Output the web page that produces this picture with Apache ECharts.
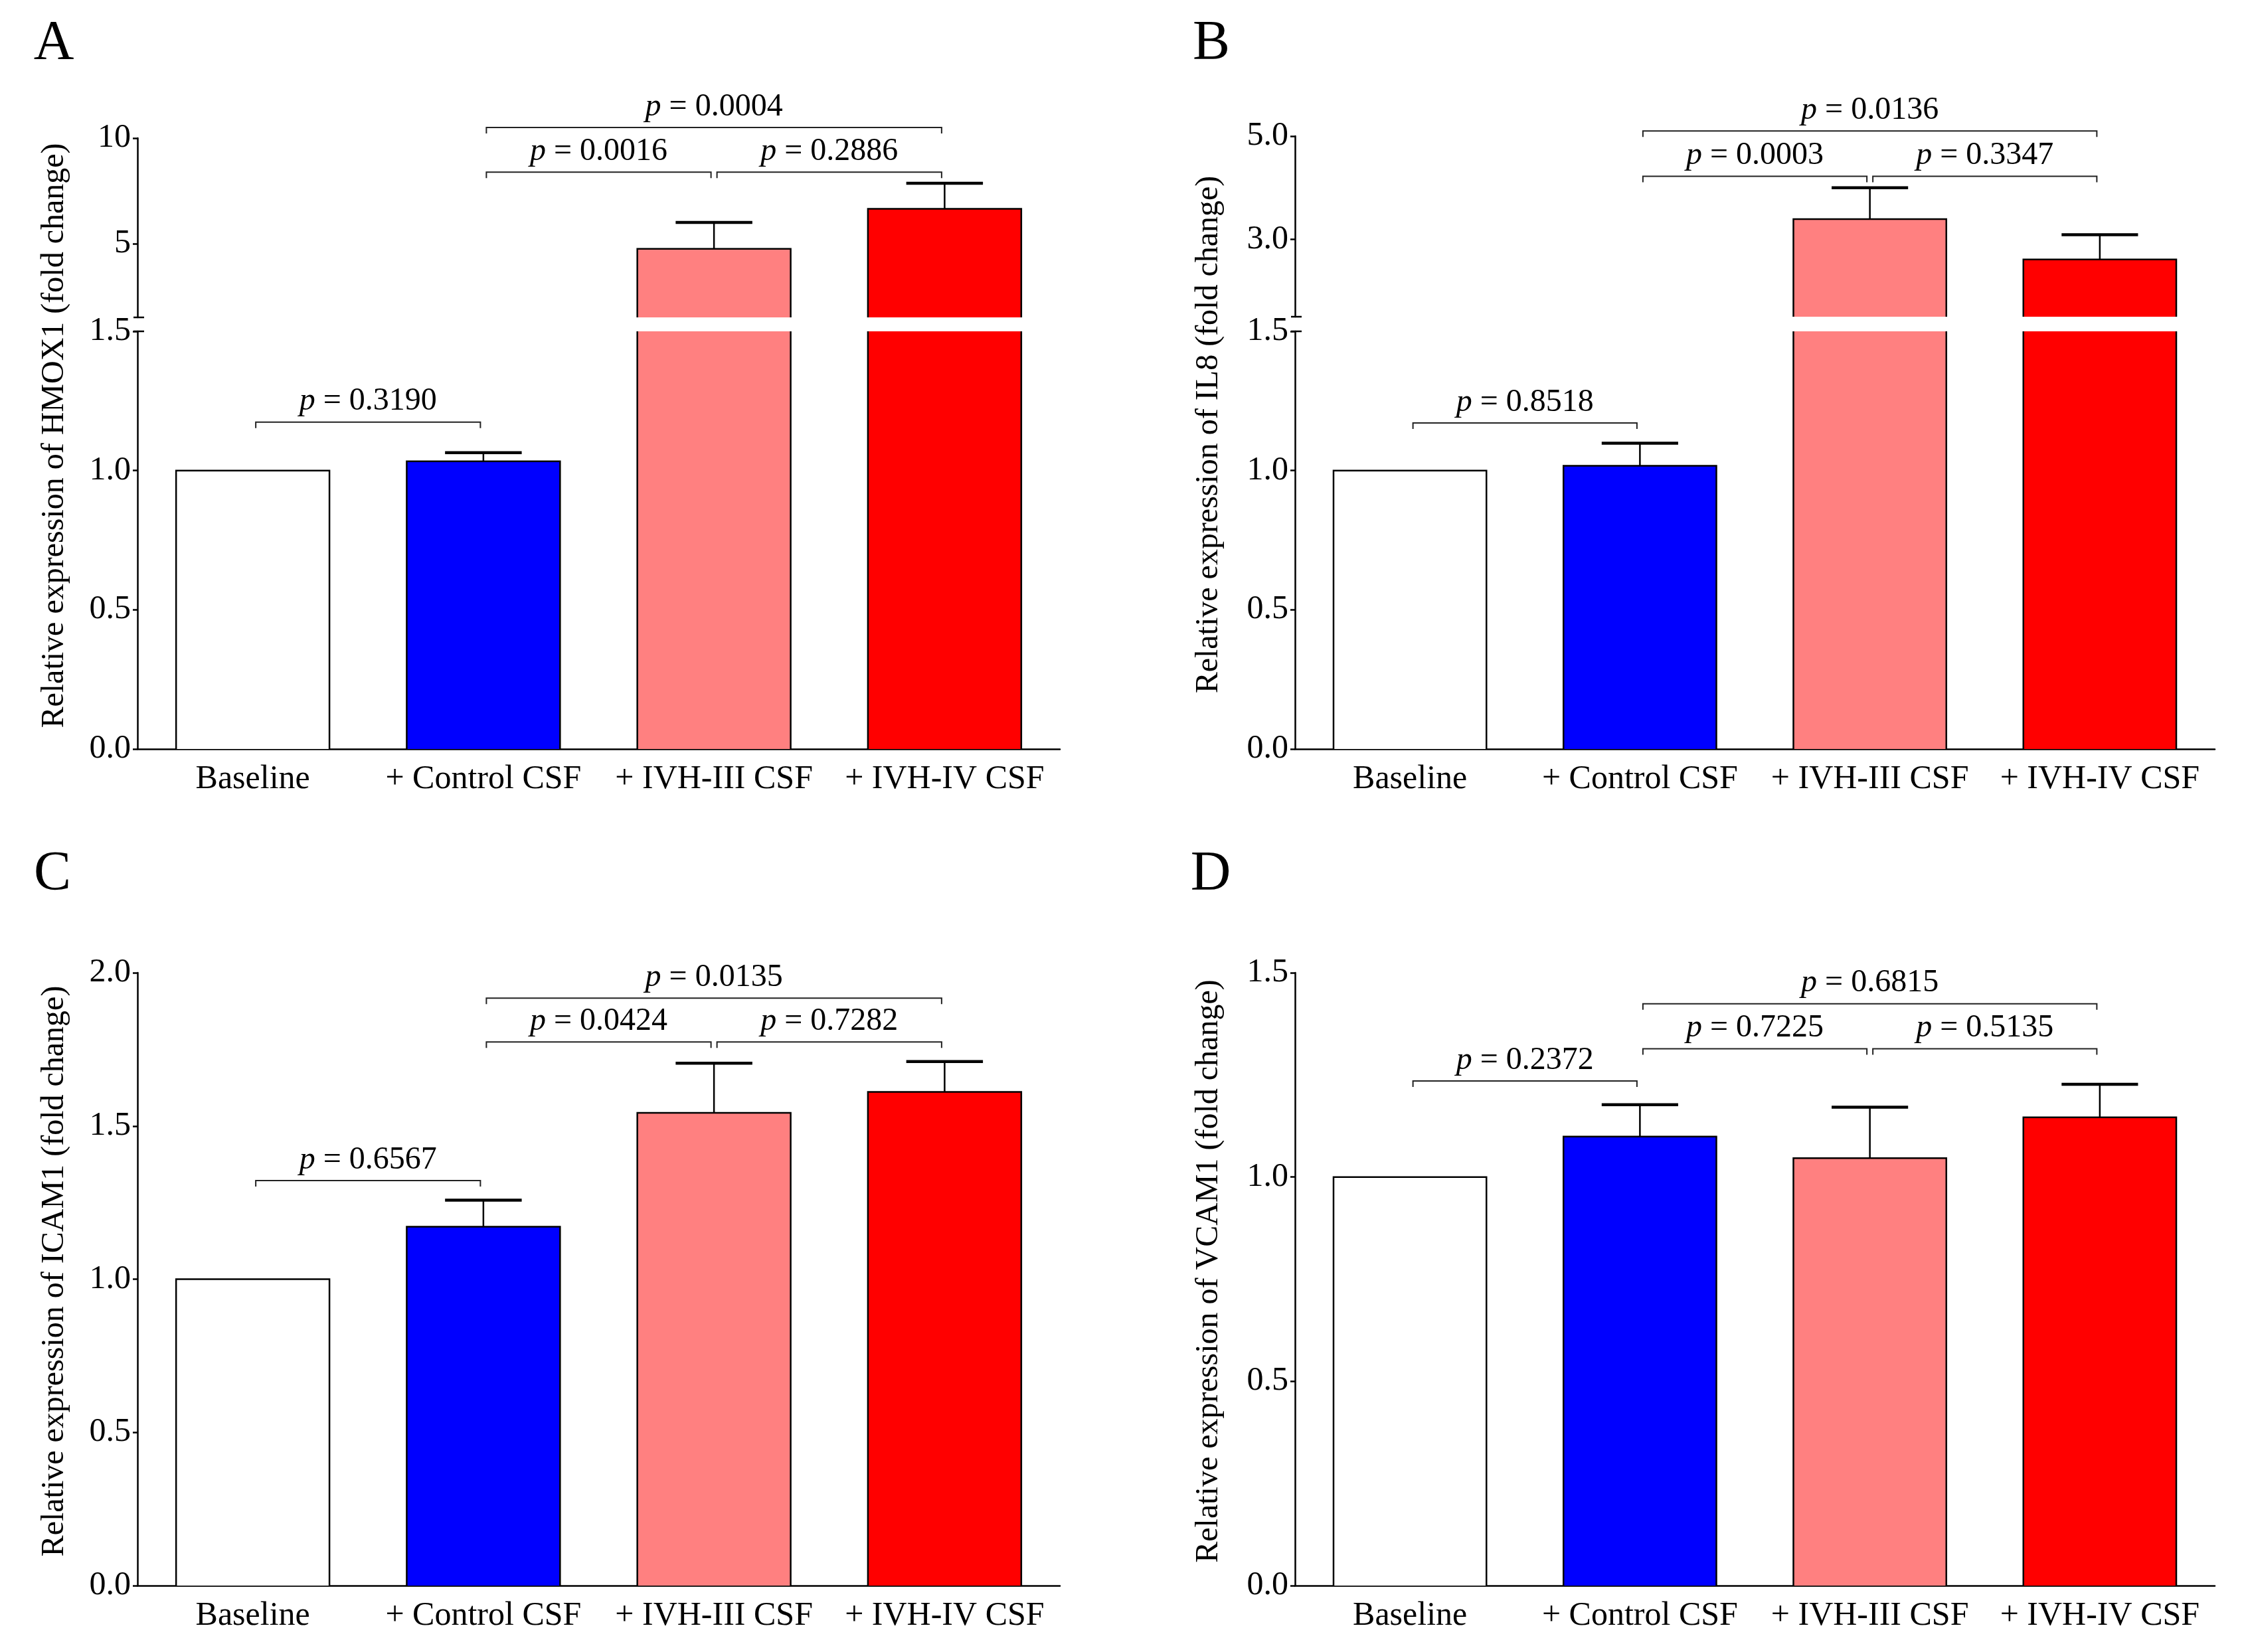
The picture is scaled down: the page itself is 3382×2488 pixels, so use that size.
<!DOCTYPE html>
<html><head><meta charset="utf-8">
<script src="https://cdn.jsdelivr.net/npm/echarts@6/dist/echarts.min.js"></script>
<style>html,body{margin:0;padding:0;background:#fff}#chart{width:3382px;height:2488px}</style>
</head><body><div id="chart"></div>
<script>
// ---------------- data ----------------
const categories = ['Baseline', '+ Control CSF', '+ IVH-III CSF', '+ IVH-IV CSF'];
const barColors = ['#FFFFFF', '#0000FF', '#FF8080', '#FF0000'];

const hmox1Mean = [1.0, 1.033, 4.75, 6.65];
const hmox1Err  = [0, 0.031, 1.25, 1.21];
const il8Mean   = [1.0, 1.017, 3.39, 2.61];
const il8Err    = [0, 0.081, 0.61, 0.48];
const icam1Mean = [1.0, 1.171, 1.543, 1.611];
const icam1Err  = [0, 0.087, 0.162, 0.099];
const vcam1Mean = [1.0, 1.099, 1.046, 1.146];
const vcam1Err  = [0, 0.078, 0.125, 0.081];

// comparisons: [fromIndex, toIndex, bracket level (data units), p value]
const hmox1Tests = [[0, 1, 1.174, '0.3190'], [1, 2, 8.39, '0.0016'], [2, 3, 8.39, '0.2886'], [1, 3, 10.5, '0.0004']];
const il8Tests   = [[0, 1, 1.171, '0.8518'], [1, 2, 4.22, '0.0003'], [2, 3, 4.22, '0.3347'], [1, 3, 5.1, '0.0136']];
const icam1Tests = [[0, 1, 1.322, '0.6567'], [1, 2, 1.774, '0.0424'], [2, 3, 1.774, '0.7282'], [1, 3, 1.917, '0.0135']];
const vcam1Tests = [[0, 1, 1.235, '0.2372'], [1, 2, 1.314, '0.7225'], [2, 3, 1.314, '0.5135'], [1, 3, 1.424, '0.6815']];

const hmox1UpperTicks = [5, 10];
const il8UpperTicks = [3, 5];

// ---------------- layout / style ----------------
const FONT = 'Liberation Serif';
const BAR_FRAC = 0.665;
const AXW = 2.5;

const panels = [
  {letter: 'A', gene: 'HMOX1', mean: hmox1Mean, err: hmox1Err, tests: hmox1Tests,
   left: 207, width: 1389, letterPos: [81, 67], titleX: 82,
   lower: {top: 499, height: 629, max: 1.5, interval: 0.5},
   upper: {top: 208, height: 270, min: 1.5, max: 10, ticks: hmox1UpperTicks, dec: 0}},
  {letter: 'B', gene: 'IL8', mean: il8Mean, err: il8Err, tests: il8Tests,
   left: 1950, width: 1385, letterPos: [1824, 67], titleX: 1820,
   lower: {top: 499, height: 629, max: 1.5, interval: 0.5},
   upper: {top: 205, height: 272, min: 1.5, max: 5, ticks: il8UpperTicks, dec: 1}},
  {letter: 'C', gene: 'ICAM1', mean: icam1Mean, err: icam1Err, tests: icam1Tests,
   left: 207, width: 1389, letterPos: [79, 1318], titleX: 82,
   lower: {top: 1465, height: 923, max: 2.0, interval: 0.5}},
  {letter: 'D', gene: 'VCAM1', mean: vcam1Mean, err: vcam1Err, tests: vcam1Tests,
   left: 1950, width: 1385, letterPos: [1823, 1318], titleX: 1820,
   lower: {top: 1465, height: 923, max: 1.5, interval: 0.5}}
];

const grids = [], xAxes = [], yAxes = [], series = [], graphic = [];

function addGrid(p, seg, isUpper) {
  const gi = grids.length;
  grids.push({left: p.left, top: seg.top, width: p.width, height: seg.height, containLabel: false});
  xAxes.push({
    type: 'category', gridIndex: gi, data: categories, show: !isUpper, boundaryGap: true,
    axisLine: {onZero: false, lineStyle: {color: '#000', width: AXW}},
    axisTick: {alignWithLabel: true, length: 9, lineStyle: {color: '#000', width: AXW}},
    axisLabel: {color: '#000', fontFamily: FONT, fontSize: 50, margin: 21, interval: 0}
  });
  const y = {
    type: 'value', gridIndex: gi, splitLine: {show: false},
    axisLine: {show: true, lineStyle: {color: '#000', width: AXW}},
    axisTick: {show: true, length: 7, lineStyle: {color: '#000', width: AXW}},
    axisLabel: {color: '#000', fontFamily: FONT, fontSize: 50, margin: 10}
  };
  if (isUpper) {
    y.min = seg.min; y.max = seg.max;
    y.axisLabel.customValues = seg.ticks;
    y.axisTick.customValues = seg.ticks;
    y.axisLabel.formatter = v => v.toFixed(seg.dec);
  } else {
    y.min = 0; y.max = seg.max; y.interval = seg.interval;
    y.axisLabel.formatter = v => v.toFixed(1);
  }
  yAxes.push(y);
  return gi;
}

function addBars(gi, p) {
  series.push({
    type: 'bar', xAxisIndex: gi, yAxisIndex: gi, barWidth: (BAR_FRAC * 100) + '%', clip: true, z: 2,
    silent: true,
    data: p.mean.map((v, i) => ({value: v, itemStyle: {color: barColors[i], borderWidth: 0}}))
  });
  series.push({
    type: 'custom', xAxisIndex: gi, yAxisIndex: gi, clip: true, z: 3, silent: true,
    encode: {x: 0, y: 1},
    data: p.mean.map((v, i) => [i, v, p.err[i]]),
    renderItem(params, api) {
      const i = api.value(0), m = api.value(1), e = api.value(2);
      const top = api.coord([i, m]);
      const base = api.coord([i, 0]);
      const w = api.size([1, 0])[0] * BAR_FRAC;
      const x0 = top[0] - w / 2, x1 = top[0] + w / 2;
      const children = [{
        type: 'polyline',
        shape: {points: [[x0, base[1]], [x0, top[1]], [x1, top[1]], [x1, base[1]]]},
        style: {stroke: '#000', fill: null, lineWidth: 2.5}
      }];
      if (e > 0) {
        const t = api.coord([i, m + e]);
        const cw = w * 0.25;
        children.push({type: 'line', shape: {x1: top[0], y1: top[1], x2: top[0], y2: t[1]},
          style: {stroke: '#000', lineWidth: 2.5}});
        children.push({type: 'line', shape: {x1: top[0] - cw, y1: t[1], x2: top[0] + cw, y2: t[1]},
          style: {stroke: '#000', lineWidth: 4.5}});
      }
      return {type: 'group', children};
    }
  });
}

function addBrackets(gi, tests) {
  if (!tests.length) return;
  series.push({
    type: 'custom', xAxisIndex: gi, yAxisIndex: gi, clip: false, z: 4, silent: true,
    encode: {x: [0, 1], y: 2},
    data: tests.map(t => [t[0], t[1], t[2]]),
    renderItem(params, api) {
      const t = tests[params.dataIndex];
      const a = api.coord([t[0], t[2]]);
      const b = api.coord([t[1], t[2]]);
      const inset = 4.5, tick = 9;
      const xa = a[0] + inset, xb = b[0] - inset, y = a[1];
      return {type: 'group', children: [
        {type: 'polyline', shape: {points: [[xa, y + tick], [xa, y], [xb, y], [xb, y + tick]]},
         style: {stroke: '#222', fill: null, lineWidth: 2}},
        {type: 'text', x: (xa + xb) / 2, y: y - 31,
         style: {text: '{i|p} = ' + t[3], fontFamily: FONT, fontSize: 48, fill: '#000',
                 align: 'center', verticalAlign: 'middle',
                 rich: {i: {fontStyle: 'italic', fontFamily: FONT, fontSize: 48, fill: '#000'}}}}
      ]};
    }
  });
}

panels.forEach(p => {
  const lgi = addGrid(p, p.lower, false);
  addBars(lgi, p);
  let titleTop = p.lower.top;
  if (p.upper) {
    const ugi = addGrid(p, p.upper, true);
    addBars(ugi, p);
    addBrackets(lgi, p.tests.filter(t => t[2] <= p.upper.min));
    addBrackets(ugi, p.tests.filter(t => t[2] > p.upper.min));
    titleTop = p.upper.top;
    // axis break caps
    [p.upper.top + p.upper.height, p.lower.top].forEach(yy => {
      graphic.push({type: 'line', silent: true,
        shape: {x1: p.left - 6, y1: yy, x2: p.left + 10, y2: yy},
        style: {stroke: '#000', lineWidth: AXW}});
    });
  } else {
    addBrackets(lgi, p.tests);
  }
  const bottom = p.lower.top + p.lower.height;
  graphic.push({type: 'text', silent: true, x: p.titleX, y: (titleTop + bottom) / 2 - 12,
    rotation: Math.PI / 2,
    style: {text: 'Relative expression of ' + p.gene + ' (fold change)', fontFamily: FONT,
            fontSize: 48, fill: '#000', align: 'center', verticalAlign: 'middle'}});
  graphic.push({type: 'text', silent: true, x: p.letterPos[0], y: p.letterPos[1],
    style: {text: p.letter, fontFamily: FONT, fontSize: 84, fill: '#000',
            align: 'center', verticalAlign: 'middle'}});
});

const chart = echarts.init(document.getElementById('chart'), null, {renderer: 'canvas'});
chart.setOption({
  animation: false,
  backgroundColor: '#ffffff',
  grid: grids, xAxis: xAxes, yAxis: yAxes, series: series, graphic: graphic
});
</script></body></html>
